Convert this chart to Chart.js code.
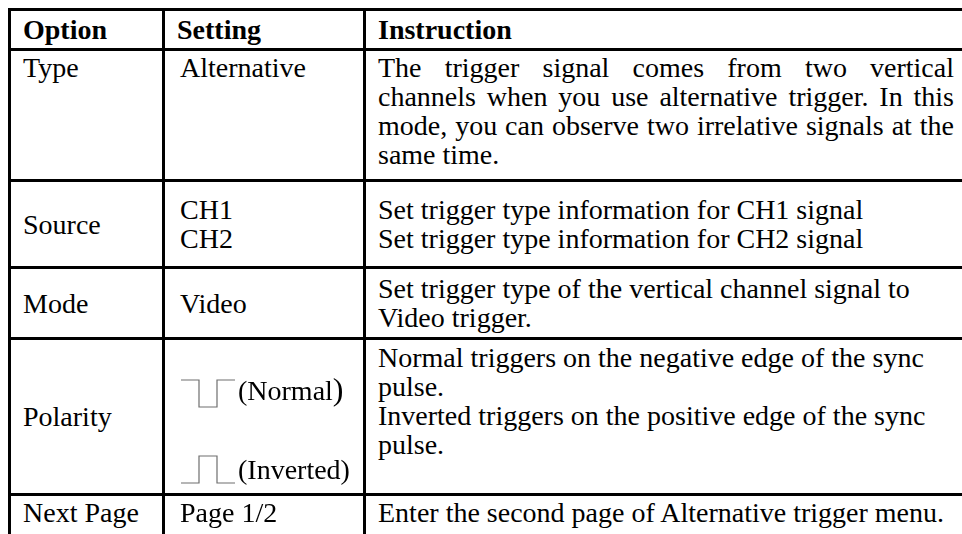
<!DOCTYPE html>
<html>
<head>
<meta charset="utf-8">
<script src="https://cdn.jsdelivr.net/npm/chart.js@4.4.0/dist/chart.umd.min.js"></script>
<style>
html, body { margin: 0; padding: 0; background: #fff; width: 962px; height: 534px; overflow: hidden; }
#sheet { position: absolute; left: 8px; top: 8px; }
table {
    border-collapse: collapse;
    table-layout: fixed;
    width: 958px;
    font-family: "Liberation Serif", "Times New Roman", serif;
    font-size: 28px;
    line-height: 29px;
    color: #000;
}
td, th { border: 3px solid #000; padding: 0 12px; vertical-align: middle; text-align: left; overflow: hidden; }
th { font-weight: bold; }
td.set { padding-left: 15px; }
tr.head { height: 40px; }
tr.r0 { height: 131px; }
tr.r1 { height: 87px; }
tr.r2 { height: 71px; }
tr.r3 { height: 156px; }
tr.r4 { height: 60px; }
tr.r0 td { vertical-align: top; padding-top: 2px; }
tr.r0 td.ins { text-align: justify; }
tr.r3 td.ins { vertical-align: top; padding-top: 3px; }
tr.r3 td.set { vertical-align: top; padding-top: 31px; }
tr.r4 td { vertical-align: top; padding-top: 2px; }
.pline { display: flex; align-items: center; white-space: nowrap; }
.pline + .pline { margin-top: 47px; }
.pline canvas { display: block; margin-right: 2px; }
.pline.normal canvas { margin-top: 8px; }
.big { font-size: 32px; }
</style>
</head>
<body>
<div id="sheet"></div>
<script>
const headers = ['Option', 'Setting', 'Instruction'];
const options = ['Type', 'Source', 'Mode', 'Polarity', 'Next Page'];
const settings = [
    ['Alternative'],
    ['CH1', 'CH2'],
    ['Video'],
    ['(Normal)', '(Inverted)'],
    ['Page 1/2']
];
const instructions = [
    ['The trigger signal comes from two vertical channels when you use alternative trigger. In this mode, you can observe two irrelative signals at the same time.'],
    ['Set trigger type information for CH1 signal', 'Set trigger type information for CH2 signal'],
    ['Set trigger type of the vertical channel signal to Video trigger.'],
    ['Normal triggers on the negative edge of the sync pulse.', 'Inverted triggers on the positive edge of the sync pulse.'],
    ['Enter the second page of Alternative trigger menu.']
];

// polarity glyphs: one period of the sync pulse (time, level)
const normalPulseX = [0, 1, 1, 2, 2, 3];
const normalPulseY = [1, 1, 0, 0, 1, 1];
const invertedPulseX = [0, 1, 1, 2, 2, 3];
const invertedPulseY = [0, 0, 1, 1, 0, 0];

function drawPulse(canvas, xs, ys) {
    return new Chart(canvas, {
        type: 'line',
        data: {
            datasets: [{
                data: xs.map((x, i) => ({ x: x, y: ys[i] })),
                borderColor: '#6e6e6e',
                borderWidth: 1.2,
                pointRadius: 0,
                tension: 0,
                fill: false,
                clip: 2
            }]
        },
        options: {
            responsive: false,
            animation: false,
            events: [],
            layout: { padding: 1 },
            plugins: { legend: { display: false }, tooltip: { enabled: false } },
            scales: {
                x: { type: 'linear', display: false, min: 0, max: 3 },
                y: { display: false, min: 0, max: 1 }
            }
        }
    });
}

function buildTable() {
    const table = document.createElement('table');
    const colgroup = document.createElement('colgroup');
    for (const w of [154, 201, 603]) {
        const col = document.createElement('col');
        col.style.width = w + 'px';
        colgroup.appendChild(col);
    }
    table.appendChild(colgroup);

    const head = document.createElement('tr');
    head.className = 'head';
    for (const h of headers) {
        const th = document.createElement('th');
        th.textContent = h;
        head.appendChild(th);
    }
    table.appendChild(head);

    options.forEach((opt, i) => {
        const tr = document.createElement('tr');
        tr.className = 'r' + i;

        const tdOpt = document.createElement('td');
        tdOpt.textContent = opt;
        tr.appendChild(tdOpt);

        const tdSet = document.createElement('td');
        tdSet.className = 'set';
        if (opt === 'Polarity') {
            const pulses = [[normalPulseX, normalPulseY, 'normal'], [invertedPulseX, invertedPulseY, 'inverted']];
            settings[i].forEach((label, k) => {
                const line = document.createElement('div');
                line.className = 'pline ' + pulses[k][2];
                const cv = document.createElement('canvas');
                cv.width = 56;
                cv.height = 29;
                line.appendChild(cv);
                const span = document.createElement('span');
                if (k === 0) {
                    span.innerHTML = label.slice(0, -1) + '<span class="big">)</span>';
                } else {
                    span.textContent = label;
                }
                line.appendChild(span);
                tdSet.appendChild(line);
                drawPulse(cv, pulses[k][0], pulses[k][1]);
            });
        } else {
            for (const s of settings[i]) {
                const d = document.createElement('div');
                d.textContent = s;
                tdSet.appendChild(d);
            }
        }
        tr.appendChild(tdSet);

        const tdIns = document.createElement('td');
        tdIns.className = 'ins';
        for (const para of instructions[i]) {
            const d = document.createElement('div');
            d.textContent = para;
            tdIns.appendChild(d);
        }
        tr.appendChild(tdIns);

        table.appendChild(tr);
    });

    document.getElementById('sheet').appendChild(table);
}

buildTable();
</script>
</body>
</html>
